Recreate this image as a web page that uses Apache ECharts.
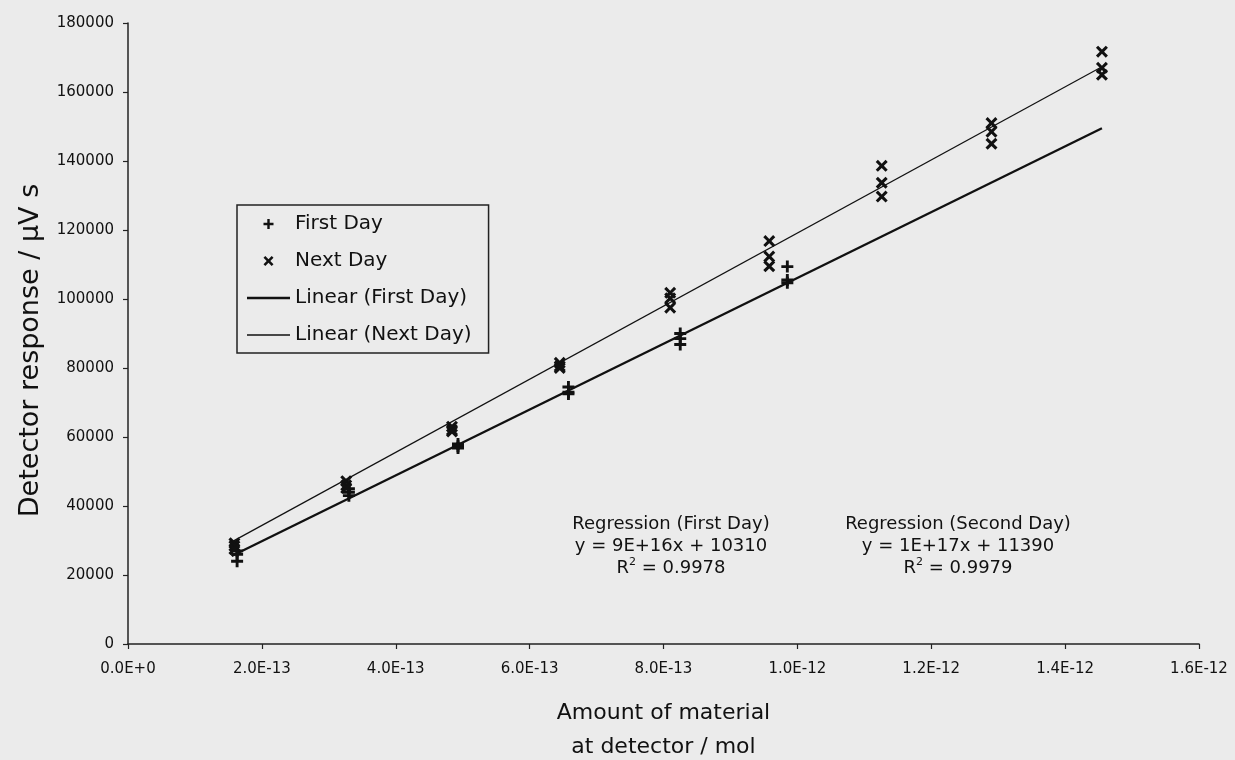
<!DOCTYPE html>
<html>
<head>
<meta charset="utf-8">
<script src="https://cdn.jsdelivr.net/npm/echarts@6/dist/echarts.min.js"></script>
<style>
html,body{margin:0;padding:0;background:#ebebeb;}
#chart{width:1235px;height:760px;}
</style>
</head>
<body>
<div id="chart"></div>
<script>
// ---- data ----
const firstDayAmounts = [1.63e-13, 3.30e-13, 4.93e-13, 6.58e-13, 8.25e-13, 9.85e-13];
const firstDayResponses = [
  [27000, 26000, 24000],
  [45000, 44000, 43000],
  [58000, 57300, 56800],
  [74500, 73000, 72500],
  [90000, 88500, 86800],
  [109400, 105500, 104700]
];
const nextDayAmounts = [1.59e-13, 3.26e-13, 4.84e-13, 6.45e-13, 8.10e-13, 9.58e-13, 1.126e-12, 1.290e-12, 1.455e-12];
const nextDayResponses = [
  [29200, 28400, 27500],
  [47200, 46000, 45200],
  [63000, 62000, 61600],
  [81500, 80500, 80000],
  [101800, 100200, 97500],
  [116800, 112300, 109500],
  [138600, 133700, 129700],
  [151000, 148500, 145000],
  [171700, 167000, 165000]
];
const firstDayLineX = [1.55e-13, 1.455e-12];
const firstDayLineY = [25500, 149500];
const nextDayLineX = [1.55e-13, 1.455e-12];
const nextDayLineY = [29600, 167300];

const xTickLabels = ['0.0E+0','2.0E-13','4.0E-13','6.0E-13','8.0E-13','1.0E-12','1.2E-12','1.4E-12','1.6E-12'];
const yTickLabels = ['0','20000','40000','60000','80000','100000','120000','140000','160000','180000'];
const seriesNames = ['First Day','Next Day','Linear (First Day)','Linear (Next Day)'];
const regressionFirst = ['Regression (First Day)', 'y = 9E+16x + 10310', '0.9978'];
const regressionSecond = ['Regression (Second Day)', 'y = 1E+17x + 11390', '0.9979'];

// ---- build ----
const FONT = 'DejaVu Sans';
const INK = '#111111';
const plusPath = 'path://M3.8,0H6.2V3.8H10V6.2H6.2V10H3.8V6.2H0V3.8H3.8Z';
const crossPath = 'path://M0,1.8L1.8,0L5,3.2L8.2,0L10,1.8L6.8,5L10,8.2L8.2,10L5,6.8L1.8,10L0,8.2L3.2,5Z';
const thickDashPath = 'path://M0,0H43V2.4H0Z';
const thinDashPath = 'path://M0,0H43V1.4H0Z';

function pairs(xs, ys) {
  const out = [];
  xs.forEach((x, i) => ys[i].forEach(y => out.push([x, y])));
  return out;
}
function linePairs(xs, ys) { return xs.map((x, i) => [x, ys[i]]); }

const chart = echarts.init(document.getElementById('chart'));

function rTextBlock(lines, cx) {
  return {
    type: 'text',
    x: cx,
    y: 513,
    style: {
      text: lines[0] + '\n' + lines[1] + '\n{n|R}{s|2}{n| = ' + lines[2] + '}',
      align: 'center',
      verticalAlign: 'top',
      fill: INK,
      font: '18px "' + FONT + '"',
      lineHeight: 22,
      rich: {
        n: { fontSize: 18, fontFamily: FONT, fill: INK, lineHeight: 22 },
        s: { fontSize: 11, fontFamily: FONT, fill: INK, padding: [0, 0, 12, 0] }
      }
    },
    z: 100
  };
}

chart.setOption({
  backgroundColor: '#ebebeb',
  color: [INK, INK, INK, INK],
  animation: false,
  grid: { left: 128, right: 36, top: 23, bottom: 116, containLabel: false, outerBoundsMode: 'none' },
  xAxis: {
    type: 'value',
    min: 0, max: 1.6e-12, interval: 2e-13,
    splitLine: { show: false },
    axisLine: { onZero: false, lineStyle: { color: '#222', width: 1.5 } },
    axisTick: { show: true, length: 5, lineStyle: { color: '#222', width: 1.2 } },
    axisLabel: {
      margin: 18, color: '#111', fontFamily: FONT, fontSize: 15,
      formatter: v => xTickLabels[Math.round(v / 2e-13)]
    },
    name: 'Amount of material\nat detector / mol',
    nameLocation: 'middle',
    nameGap: 52,
    nameTextStyle: { fontFamily: FONT, fontSize: 22, color: INK, lineHeight: 34 }
  },
  yAxis: {
    type: 'value',
    min: 0, max: 180000, interval: 20000,
    splitLine: { show: false },
    axisLine: { show: true, lineStyle: { color: '#222', width: 1.5 } },
    axisTick: { show: true, length: 5, lineStyle: { color: '#222', width: 1.2 } },
    axisLabel: {
      margin: 14, color: '#111', fontFamily: FONT, fontSize: 15,
      formatter: v => yTickLabels[Math.round(v / 20000)]
    },
    name: 'Detector response / \u03BCV s',
    nameLocation: 'middle',
    nameGap: 84,
    nameTextStyle: { fontFamily: FONT, fontSize: 27, color: INK, padding: [0, 34, 0, 0] }
  },
  legend: {
    orient: 'vertical',
    left: 237, top: 205,
    padding: [8, 17, 7, 10],
    itemWidth: 43, itemHeight: 10, itemGap: 15,
    borderColor: '#222', borderWidth: 1.5,
    backgroundColor: '#ebebeb',
    textStyle: { fontFamily: FONT, fontSize: 20, color: INK, lineHeight: 22 },
    data: [
      { name: seriesNames[0], icon: plusPath, itemStyle: { color: INK, opacity: 1 } },
      { name: seriesNames[1], icon: crossPath, itemStyle: { color: INK, opacity: 1 } },
      { name: seriesNames[2], icon: thickDashPath, itemStyle: { color: INK } },
      { name: seriesNames[3], icon: thinDashPath, itemStyle: { color: INK } }
    ]
  },
  graphic: [rTextBlock(regressionFirst, 671), rTextBlock(regressionSecond, 958)],
  series: [
    {
      name: seriesNames[0], type: 'scatter',
      symbol: plusPath, symbolSize: 12,
      itemStyle: { color: INK, opacity: 1 },
      data: pairs(firstDayAmounts, firstDayResponses), z: 5
    },
    {
      name: seriesNames[1], type: 'scatter',
      symbol: crossPath, symbolSize: 12,
      itemStyle: { color: INK, opacity: 1 },
      data: pairs(nextDayAmounts, nextDayResponses), z: 5
    },
    {
      name: seriesNames[2], type: 'line', symbol: 'none',
      itemStyle: { color: INK },
      lineStyle: { color: INK, width: 2.4 },
      data: linePairs(firstDayLineX, firstDayLineY), z: 3
    },
    {
      name: seriesNames[3], type: 'line', symbol: 'none',
      itemStyle: { color: INK },
      lineStyle: { color: INK, width: 1.2 },
      data: linePairs(nextDayLineX, nextDayLineY), z: 3
    }
  ]
});
</script>
</body>
</html>
